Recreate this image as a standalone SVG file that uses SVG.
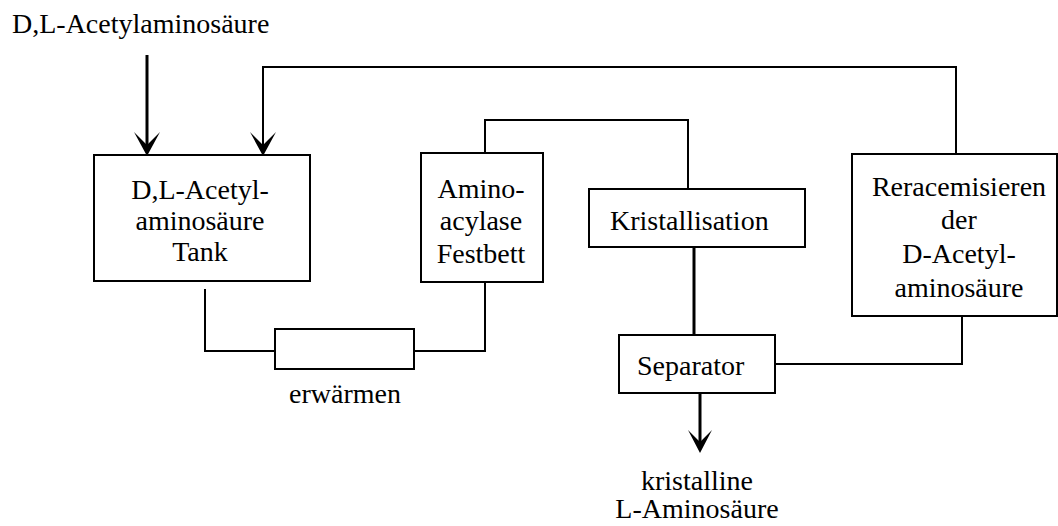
<svg xmlns="http://www.w3.org/2000/svg" width="1058" height="526" viewBox="0 0 1058 526">
<style>
.box{fill:#fff;stroke:#000;stroke-width:2}
.ln{fill:none;stroke:#000;stroke-width:2}
.th{fill:none;stroke:#000;stroke-width:3}
.ah{fill:#000;stroke:none}
text{font-family:"Liberation Serif","Times New Roman",serif;font-size:28px;fill:#000}
.c{text-anchor:middle}
</style>
<rect width="1058" height="526" fill="#fff"/>
<g id="connectors">
<line class="th" x1="147" y1="55" x2="147" y2="150"/>
<path class="ah" d="M147,156 L134,132 L147,145 L160,132 Z"/>
<polyline class="ln" points="956,154 956,67 263,67 263,150"/>
<path class="ah" d="M263,156 L250,132 L263,145 L276,132 Z"/>
<polyline class="ln" points="205,289 205,351 275,351"/>
<polyline class="ln" points="414,351 485,351 485,282"/>
<polyline class="ln" points="485,153 485,120 688,120 688,189"/>
<line class="th" x1="694" y1="247" x2="694" y2="335"/>
<polyline class="ln" points="775,364 962,364 962,316"/>
<line class="th" x1="700" y1="393" x2="700" y2="446"/>
<path class="ah" d="M700,453 L688,430 L700,442 L712,430 Z"/>
</g>
<g id="label-input"><text x="12" y="33">D,L-Acetylaminosäure</text></g>
<g id="tank">
<rect class="box" x="94" y="155" width="216" height="126"/>
<text class="c" x="200" y="199">D,L-Acetyl-</text>
<text class="c" x="200" y="230">aminosäure</text>
<text class="c" x="200" y="261">Tank</text>
</g>
<g id="festbett">
<rect class="box" x="421" y="153" width="122" height="129"/>
<text class="c" x="481" y="198">Amino-</text>
<text class="c" x="481" y="230">acylase</text>
<text class="c" x="481" y="263">Festbett</text>
</g>
<g id="heater">
<rect class="box" x="275" y="329" width="139" height="40"/>
<text class="c" x="345" y="403">erwärmen</text>
</g>
<g id="kristallisation">
<rect class="box" x="589" y="189" width="216" height="58"/>
<text x="610" y="230">Kristallisation</text>
</g>
<g id="separator">
<rect class="box" x="619" y="335" width="156" height="58"/>
<text x="637" y="375">Separator</text>
</g>
<g id="reracemisieren">
<rect class="box" x="852" y="154" width="205" height="162"/>
<text class="c" x="959" y="196">Reracemisieren</text>
<text class="c" x="959" y="229">der</text>
<text class="c" x="959" y="263">D-Acetyl-</text>
<text class="c" x="959" y="297">aminosäure</text>
</g>
<g id="label-output">
<text class="c" x="697" y="490">kristalline</text>
<text class="c" x="697" y="518">L-Aminosäure</text>
</g>
</svg>
